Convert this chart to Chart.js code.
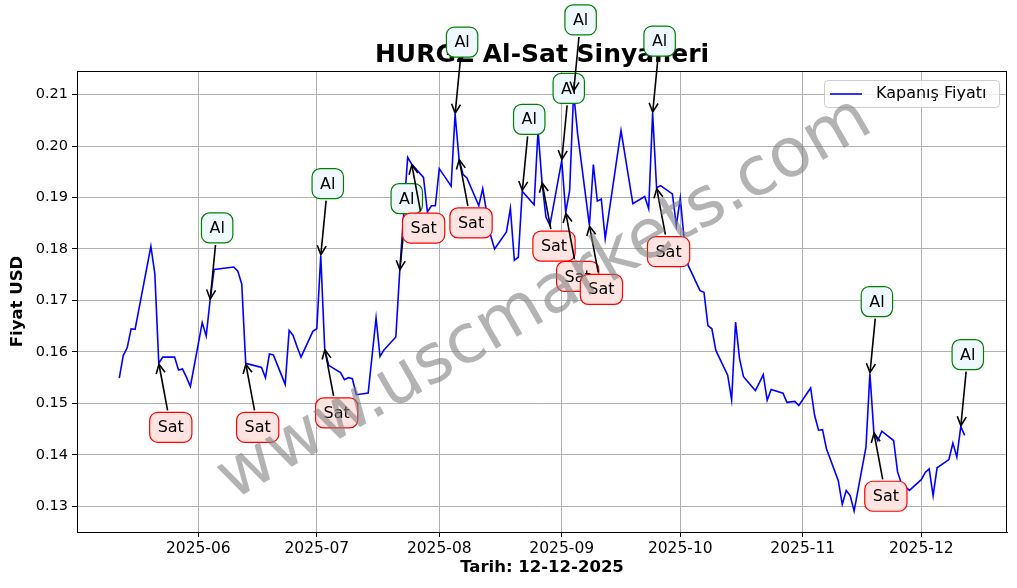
<!DOCTYPE html>
<html>
<head>
<meta charset="utf-8">
<script src="https://cdn.jsdelivr.net/npm/chart.js@4.4.1/dist/chart.umd.min.js"></script>
<style>
  html, body { margin: 0; padding: 0; background: #fff; }
</style>
</head>
<body>
<canvas id="graphique_hurgz" width="1017" height="588"></canvas>
<script>
// donnees
const dates = [
  '2025-05-12','2025-05-13','2025-05-14','2025-05-15','2025-05-16','2025-05-20','2025-05-21','2025-05-22','2025-05-23',
  '2025-05-26','2025-05-27','2025-05-28','2025-05-29','2025-05-30',
  '2025-06-02','2025-06-03','2025-06-04','2025-06-05','2025-06-10','2025-06-11','2025-06-12','2025-06-13',
  '2025-06-16','2025-06-17','2025-06-18','2025-06-19','2025-06-20','2025-06-23','2025-06-24','2025-06-25','2025-06-26','2025-06-27',
  '2025-06-30','2025-07-01','2025-07-02','2025-07-03','2025-07-04','2025-07-07','2025-07-08','2025-07-09','2025-07-10','2025-07-11',
  '2025-07-14','2025-07-16','2025-07-17','2025-07-18','2025-07-21','2025-07-22','2025-07-23','2025-07-24','2025-07-25',
  '2025-07-28','2025-07-29','2025-07-30','2025-07-31','2025-08-01','2025-08-04','2025-08-05','2025-08-06','2025-08-07','2025-08-08',
  '2025-08-11','2025-08-12','2025-08-13','2025-08-14','2025-08-15','2025-08-18','2025-08-19','2025-08-20','2025-08-21','2025-08-22',
  '2025-08-25','2025-08-26','2025-08-27','2025-08-28','2025-08-29','2025-09-01','2025-09-02','2025-09-03','2025-09-04','2025-09-05',
  '2025-09-08','2025-09-09','2025-09-10','2025-09-11','2025-09-12','2025-09-15','2025-09-16','2025-09-17','2025-09-18','2025-09-19',
  '2025-09-22','2025-09-23','2025-09-24','2025-09-25','2025-09-26','2025-09-29','2025-09-30','2025-10-01','2025-10-02','2025-10-03',
  '2025-10-06','2025-10-07','2025-10-08','2025-10-09','2025-10-10','2025-10-13','2025-10-14','2025-10-15','2025-10-16','2025-10-17',
  '2025-10-20','2025-10-21','2025-10-22','2025-10-23','2025-10-24','2025-10-27','2025-10-28','2025-10-30','2025-10-31',
  '2025-11-03','2025-11-04','2025-11-05','2025-11-06','2025-11-07','2025-11-10','2025-11-11','2025-11-12','2025-11-13','2025-11-14',
  '2025-11-17','2025-11-18','2025-11-19','2025-11-20','2025-11-21','2025-11-24','2025-11-25','2025-11-26','2025-11-27','2025-11-28',
  '2025-12-01','2025-12-02','2025-12-03','2025-12-04','2025-12-05','2025-12-08','2025-12-09','2025-12-10','2025-12-11','2025-12-12'
];
const closes = [
  0.1549,0.1593,0.1608,0.1645,0.1644,0.1805,0.1752,0.1578,0.1590,
  0.1590,0.1565,0.1567,0.1551,0.1533,
  0.1657,0.1631,0.1701,0.1760,0.1765,0.1757,0.1732,0.1578,
  0.1572,0.1570,0.1550,0.1596,0.1594,0.1537,0.1642,0.1632,0.1610,0.1590,
  0.1640,0.1645,0.1787,0.1606,0.1574,0.1560,0.1546,0.1550,0.1548,0.1517,
  0.1520,0.1666,0.1591,0.1604,0.1629,0.1758,0.1870,0.1978,0.1965,
  0.1939,0.1872,0.1884,0.1884,0.1956,0.1922,0.2062,0.1975,0.1945,0.1938,
  0.1884,0.1917,0.1870,0.1826,0.1800,0.1833,0.1879,0.1778,0.1784,0.1912,
  0.1886,0.2030,0.1930,0.1862,0.1846,0.1972,0.1871,0.1914,0.2105,0.2025,
  0.1846,0.1964,0.1893,0.1897,0.1820,0.1978,0.2030,0.1983,0.1935,0.1888,
  0.1902,0.1878,0.2064,0.1919,0.1923,0.1907,0.1846,0.1899,0.1817,0.1768,
  0.1719,0.1716,0.1651,0.1645,0.1603,0.1555,0.1507,0.1658,0.1587,0.1552,
  0.1525,0.1540,0.1556,0.1506,0.1527,0.1520,0.1502,0.1504,0.1496,
  0.1530,0.1477,0.1448,0.1449,0.1412,0.1350,0.1304,0.1331,0.1321,0.1291,
  0.1415,0.1558,0.1444,0.1428,0.1446,0.1428,0.1367,0.1344,0.1338,0.1331,
  0.1352,0.1366,0.1373,0.1321,0.1375,0.1391,0.1423,0.1396,0.1455,0.1438
];
// signaux
const alDates = ['2025-06-04','2025-07-02','2025-07-22','2025-08-05','2025-08-22','2025-09-01','2025-09-04','2025-09-24','2025-11-18','2025-12-11'];
const satDates = ['2025-05-22','2025-06-13','2025-07-03','2025-07-25','2025-08-06','2025-08-27','2025-09-02','2025-09-08','2025-09-25','2025-11-19'];
// graduations
const monthTicks = ['2025-06','2025-07','2025-08','2025-09','2025-10','2025-11','2025-12'];
const yTicks = [0.13,0.14,0.15,0.16,0.17,0.18,0.19,0.20,0.21];

const FONT = "'DejaVu Sans', sans-serif";
const points = dates.map((d, i) => ({ x: Date.parse(d), y: closes[i] }));

// marges 5% comme matplotlib
const xMin0 = points[0].x, xMax0 = points[points.length - 1].x;
const yMin0 = Math.min(...closes), yMax0 = Math.max(...closes);
const xPad = (xMax0 - xMin0) * 0.05, yPad = (yMax0 - yMin0) * 0.05;

function monthLabel(v) {
  const d = new Date(v);
  return d.getUTCFullYear() + '-' + String(d.getUTCMonth() + 1).padStart(2, '0');
}

function drawArrow(ctx, x0, y0, x1, y1) {
  const ang = Math.atan2(y1 - y0, x1 - x0);
  ctx.beginPath();
  ctx.moveTo(x0, y0);
  ctx.lineTo(x1, y1);
  ctx.stroke();
  const hl = 9, hw = 4.5;
  const bx = x1 - hl * Math.cos(ang), by = y1 - hl * Math.sin(ang);
  ctx.beginPath();
  ctx.moveTo(bx + hw * Math.sin(ang), by - hw * Math.cos(ang));
  ctx.lineTo(x1, y1);
  ctx.lineTo(bx - hw * Math.sin(ang), by + hw * Math.cos(ang));
  ctx.stroke();
}

function drawSignal(ctx, px, py, text, dx, dy, stroke, fill) {
  ctx.font = '16px ' + FONT;
  const w = ctx.measureText(text).width + 16, h = 30;
  const cx = px + dx, cy = py + dy;
  // fleche du bord de la boite vers le point
  const vx = px - cx, vy = py - cy;
  const t = Math.min((w / 2 + 2) / Math.abs(vx || 1e-6), (h / 2 + 2) / Math.abs(vy || 1e-6));
  ctx.strokeStyle = '#000';
  ctx.lineWidth = 1.6;
  drawArrow(ctx, cx + vx * t, cy + vy * t, px - vx / Math.hypot(vx, vy), py - vy / Math.hypot(vx, vy));
  ctx.beginPath();
  ctx.roundRect(cx - w / 2, cy - h / 2, w, h, 8);
  ctx.fillStyle = fill;
  ctx.fill();
  ctx.lineWidth = 1.2;
  ctx.strokeStyle = stroke;
  ctx.stroke();
  ctx.fillStyle = '#000';
  ctx.textAlign = 'center';
  ctx.textBaseline = 'middle';
  ctx.fillText(text, cx, cy + 1);
}

const decor = {
  id: 'decor',
  afterDatasetsDraw(chart) {
    const { ctx, chartArea: a, scales: { x, y } } = chart;
    ctx.save();
    // cadre
    ctx.strokeStyle = '#000';
    ctx.lineWidth = 1;
    ctx.strokeRect(Math.round(a.left) + 0.5, Math.round(a.top) + 0.5, Math.round(a.right - a.left) - 1, Math.round(a.bottom - a.top));
    // titre
    ctx.fillStyle = '#000';
    ctx.font = 'bold 25px ' + FONT;
    ctx.textAlign = 'center';
    ctx.textBaseline = 'middle';
    ctx.fillText('HURGZ Al-Sat Sinyalleri', (a.left + a.right) / 2, 55);
    // signaux
    alDates.forEach(d => {
      const i = dates.indexOf(d);
      drawSignal(ctx, x.getPixelForValue(points[i].x), y.getPixelForValue(points[i].y), 'Al', 7, -72, '#008000', '#f0f8ff');
    });
    satDates.forEach(d => {
      const i = dates.indexOf(d);
      drawSignal(ctx, x.getPixelForValue(points[i].x), y.getPixelForValue(points[i].y), 'Sat', 12, 64, '#ff0000', '#ffe4e1');
    });
    // legende
    const lx = a.right - 183, ly = a.top + 9;
    ctx.beginPath();
    ctx.roundRect(lx + 0.5, ly + 0.5, 175, 27, 4);
    ctx.fillStyle = 'rgba(255,255,255,0.8)';
    ctx.fill();
    ctx.strokeStyle = '#cccccc';
    ctx.lineWidth = 1;
    ctx.stroke();
    ctx.beginPath();
    ctx.moveTo(lx + 6, ly + 14);
    ctx.lineTo(lx + 38, ly + 14);
    ctx.strokeStyle = '#0000ff';
    ctx.lineWidth = 1.6;
    ctx.stroke();
    ctx.fillStyle = '#000';
    ctx.font = '16px ' + FONT;
    ctx.textAlign = 'left';
    ctx.fillText(chart.data.datasets[0].label, lx + 52, ly + 14);
    // filigrane
    ctx.translate(545, 300);
    ctx.rotate(-30 * Math.PI / 180);
    ctx.font = '68px ' + FONT;
    ctx.textAlign = 'center';
    ctx.fillStyle = 'rgba(128,128,128,0.6)';
    ctx.fillText('www.uscmarkets.com', 0, 0);
    ctx.restore();
  }
};

const graph = document.getElementById('graphique_hurgz');

new Chart(graph, {
  type: 'line',
  data: {
    datasets: [{
      label: 'Kapanış Fiyatı',
      data: points,
      borderColor: '#0000ff',
      backgroundColor: '#0000ff',
      borderWidth: 1.6,
      pointRadius: 0,
      tension: 0,
    }]
  },
  options: {
    responsive: false,
    animation: false,
    devicePixelRatio: 1,
    layout: { padding: { top: 71, right: 10, left: 0, bottom: 0 } },
    plugins: {
      legend: { display: false },
      title: { display: false },
      tooltip: { enabled: false },
    },
    scales: {
      x: {
        type: 'linear',
        min: xMin0 - xPad,
        max: xMax0 + xPad,
        afterBuildTicks: s => { s.ticks = monthTicks.map(m => ({ value: Date.parse(m + '-01') })); },
        afterFit: s => { s.height = 56; },
        grid: { color: '#b0b0b0', lineWidth: 1, tickColor: '#000', tickLength: 5 },
        border: { color: '#000', width: 1 },
        ticks: {
          autoSkip: false,
          maxRotation: 0,
          padding: 3,
          color: '#000',
          font: { family: FONT, size: 15.5 },
          callback: v => monthLabel(v),
        },
        title: {
          display: true,
          text: 'Tarih: 12-12-2025',
          color: '#000',
          font: { family: FONT, size: 16.5, weight: 'bold' },
          padding: { top: 0, bottom: 10 },
        }
      },
      y: {
        min: yMin0 - yPad,
        max: yMax0 + yPad,
        afterBuildTicks: s => { s.ticks = yTicks.map(v => ({ value: v })); },
        afterFit: s => { s.width = 77; },
        grid: { color: '#b0b0b0', lineWidth: 1, tickColor: '#000', tickLength: 5 },
        border: { color: '#000', width: 1 },
        ticks: {
          padding: 4,
          color: '#000',
          font: { family: FONT, size: 14.5 },
          callback: v => v.toFixed(2),
        },
        title: {
          display: true,
          text: 'Fiyat USD',
          color: '#000',
          font: { family: FONT, size: 16.5, weight: 'bold' },
          padding: { top: 8, bottom: 0 },
        }
      }
    }
  },
  plugins: [decor]
});
</script>
</body>
</html>
